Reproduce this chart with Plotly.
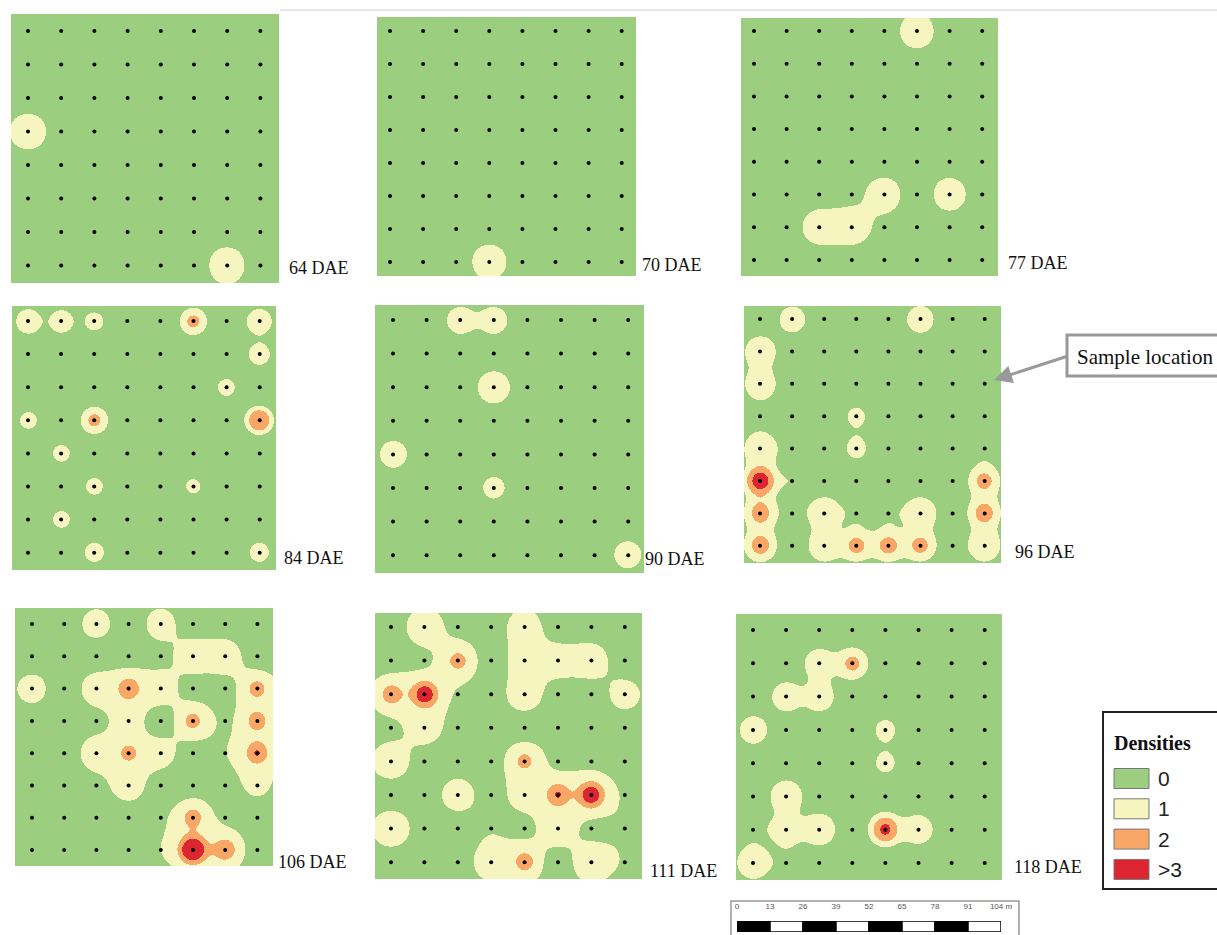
import numpy as np
import plotly.graph_objects as go

W, H = 1217, 935
COLORS = ["#9BCE7E", "#F6F5C0", "#F8A766", "#DD2531"]
DENSITY_LABELS = ["0", "1", "2", ">3"]
DAE_LABELS = ["64 DAE", "70 DAE", "77 DAE", "84 DAE", "90 DAE", "96 DAE", "106 DAE", "111 DAE", "118 DAE"]
SCALE_TICKS = [0, 13, 26, 39, 52, 65, 78, 91, 104]
SCALE_TEXT = ["0", "13", "26", "39", "52", "65", "78", "91", "104 m"]

d64 = [[0,0,0,0,0,0,0,0],
       [0,0,0,0,0,0,0,0],
       [0,0,0,0,0,0,0,0],
       [1.1,0,0,0,0,0,0,0],
       [0,0,0,0,0,0,0,0],
       [0,0,0,0,0,0,0,0],
       [0,0,0,0,0,0,0,0],
       [0,0,0,0,0,0,1.1,0]]
d70 = [[0,0,0,0,0,0,0,0],
       [0,0,0,0,0,0,0,0],
       [0,0,0,0,0,0,0,0],
       [0,0,0,0,0,0,0,0],
       [0,0,0,0,0,0,0,0],
       [0,0,0,0,0,0,0,0],
       [0,0,0,0,0,0,0,0],
       [0,0,0,1.05,0,0,0,0]]
d77 = [[0,0,0,0,0,1.05,0,0],
       [0,0,0,0,0,0,0,0],
       [0,0,0,0,0,0,0,0],
       [0,0,0,0,0,0,0,0],
       [0,0,0,0,0,0,0,0],
       [0,0,0,.2,1.05,0,1.0,0],
       [0,0,1.15,1.2,.2,0,0,0],
       [0,0,0,0,0,0,0,0]]
d84 = [[1.2,1.05,.8,0,0,1.8,0,1.25],
       [0,0,0,0,0,0,0,.95],
       [0,0,0,0,0,0,.75,0],
       [.75,0,1.8,0,0,0,.2,2.48],
       [0,.75,0,0,0,0,0,0],
       [0,0,.75,0,0,.67,0,0],
       [0,.75,0,0,0,0,0,0],
       [0,0,.85,0,0,0,0,.85]]
d90 = [[0,0,1.05,1.05,0,0,0,0],
       [0,0,0,0,0,0,0,0],
       [0,0,0,1.45,0,0,0,0],
       [0,0,0,0,0,0,0,0],
       [1.05,0,0,0,0,0,0,0],
       [0,0,0,.8,0,0,0,0],
       [0,0,0,0,0,0,0,0],
       [0,0,0,0,0,0,0,1.05]]
d96 = [[0,1.0,0,0,0,1.05,0,0],
       [1.35,0,0,0,0,0,0,0],
       [1.35,0,0,0,0,0,0,0],
       [.2,0,0,.68,0,0,0,0],
       [1.5,.2,0,.74,0,0,0,.42],
       [3.0,.48,0,0,0,0,0,2.0],
       [2.2,.3,1.45,.48,.48,1.45,.1,2.2],
       [2.2,0,1.5,2.0,2.1,2.0,.1,1.5]]
d106 = [[0,0,.85,0,.9,0,0,0],
        [0,0,0,0,.2,1.15,1.15,0],
        [.85,0,1.1,2.52,1.15,.1,.1,2.0],
        [0,0,.2,1.1,0,1.95,.35,2.15],
        [0,0,1.1,2.0,1.0,0,.45,2.55],
        [0,0,.2,1.05,0,0,.1,.8],
        [0,0,0,0,.3,2.1,.25,0],
        [0,0,0,0,.5,3.5,2.5,0]]
d111 = [[0,1.15,.15,0,1.1,0,0,0],
        [0,.3,2.0,0,1.15,1.1,1.1,0],
        [2.2,2.95,.35,0,1.15,0,0,.85],
        [.25,1.15,0,0,0,0,0,0],
        [1.15,0,0,0,1.9,.2,.15,0],
        [0,0,.95,.1,1.15,2.55,2.95,.35],
        [1.15,0,0,.4,.2,1.35,.22,.45],
        [0,0,0,1.2,2.1,0,1.35,.4]]
d118 = [[0,0,0,0,0,0,0,0],
        [0,0,1.25,1.9,0,0,0,0],
        [0,1.2,1.2,0,0,0,0,0],
        [1.1,0,0,0,.75,0,0,0],
        [0,0,0,0,.72,0,0,0],
        [0,1.45,0,0,0,0,0,0],
        [.45,1.45,1.45,0,2.67,1.2,0,0],
        [1.5,.45,0,0,0,0,0,0]]
PANELS = [d64, d70, d77, d84, d90, d96, d106, d111, d118]
KERNEL_WIDTH = [.45, .45, .45, .28, .33, .34, .45, .45, .33]

# panel placement in page pixels: image rectangle, first sample dot, dot spacing
RECTS = [(11,14,279,283,28,31,33.2,33.5), (377,17,636,276,390,31,33.1,33.0), (741,18,998,276,754,31,32.6,32.7),
         (12,306,276,570,28,321,33.1,33.1), (375,305,644,573,393,320,33.6,33.6), (744,306,1001,563,760,319,32.1,32.4),
         (15,608,273,866,32,624,32.2,32.3), (375,613,642,879,391,627,33.4,33.6), (736,614,1002,880,753,630,33.1,33.3)]
LABEL_POS = [(287,268), (640,265), (1006,263), (282,558), (643,559), (1013,552), (276,862), (648,871), (1012,867)]

fig = go.Figure()
gx, gy = np.meshgrid(np.arange(8.0), np.arange(8.0))
gx, gy = gx.ravel(), gy.ravel()

def layer_field(v, X, Y, s):
    K = np.exp(-((gx[:,None]-gx[None,:])**2 + (gy[:,None]-gy[None,:])**2) / (2*s**2))
    w = np.linalg.solve(K, v)
    out = np.zeros(X.shape)
    for wi, xi, yi in zip(w, gx, gy):
        out += wi*np.exp(-((X-xi)**2 + (Y-yi)**2) / (2*s**2))
    return out

def px(x): return x/W
def py(y): return 1 - y/H

shapes, annos = [], []
colorscale = [[0,COLORS[0]],[.25,COLORS[0]],[.25,COLORS[1]],[.5,COLORS[1]],[.5,COLORS[2]],[.75,COLORS[2]],[.75,COLORS[3]],[1,COLORS[3]]]

for i, (mat, r) in enumerate(zip(PANELS, RECTS)):
    x0, y0, x1, y1, dx0, dy0, sx, sy = r
    n = "" if i == 0 else str(i+1)
    xr = [(x0-dx0)/sx, (x1-dx0)/sx]
    yr = [(y1-dy0)/sy, (y0-dy0)/sy]
    xs = np.linspace(xr[0], xr[1], int(x1-x0))
    ys = np.linspace(yr[1], yr[0], int(y1-y0))
    X, Y = np.meshgrid(xs, ys)
    v = np.array(mat, float).ravel()
    s = KERNEL_WIDTH[i]
    l1 = np.interp(v, [0,1.5,2,3.5], [0,1.5,1.5,2.4])
    l2 = np.interp(v, [1,1.52,2.5,3.5], [0,.5,.85,1.8])
    l3 = np.interp(v, [2,2.5,3.5], [0,.5,.92])
    cls = ((layer_field(l1,X,Y,s) > .5).astype(np.int8)
           + (layer_field(l2,X,Y,.3) > .5).astype(np.int8)
           + (layer_field(l3,X,Y,.3) > .5).astype(np.int8))
    fig.add_trace(go.Heatmap(x=xs, y=ys, z=cls, zmin=0, zmax=3, colorscale=colorscale, showscale=False,
                             hoverinfo="skip", xaxis="x"+n, yaxis="y"+n))
    fig.add_trace(go.Scatter(x=gx, y=gy, mode="markers", marker=dict(size=4, color="black"),
                             hoverinfo="skip", showlegend=False, xaxis="x"+n, yaxis="y"+n))
    fig.layout["xaxis"+n] = dict(domain=[px(x0), px(x1)], range=xr, visible=False, anchor="y"+n)
    fig.layout["yaxis"+n] = dict(domain=[py(y1), py(y0)], range=yr, visible=False, anchor="x"+n)
    annos.append(dict(x=px(LABEL_POS[i][0]), y=py(LABEL_POS[i][1]), xref="paper", yref="paper", text=DAE_LABELS[i],
                      showarrow=False, xanchor="left", yanchor="middle",
                      font=dict(family="Liberation Serif", size=18, color="#111")))

# scale bar on its own axis
fig.add_trace(go.Bar(x=[13]*8, base=SCALE_TICKS[:-1], y=[0]*8, orientation="h", width=1,
                     marker=dict(color=["black","white"]*4, line=dict(color="black", width=1.5)),
                     hoverinfo="skip", showlegend=False, xaxis="x10", yaxis="y10"))
fig.layout["xaxis10"] = dict(domain=[px(737), px(1001)], range=[0,104], anchor="y10", side="top", tickmode="array",
                             tickvals=SCALE_TICKS, ticktext=SCALE_TEXT, ticks="", showgrid=False, zeroline=False,
                             showline=False, ticklabelstandoff=9, tickfont=dict(family="Liberation Sans", size=8, color="#555"))
fig.layout["yaxis10"] = dict(domain=[py(932), py(921)], range=[-.5,.5], visible=False, anchor="x10")

def rect(x0,y0,x1,y1,fill="rgba(0,0,0,0)",line="#000",lw=1, layer="above"):
    return dict(type="rect", xref="paper", yref="paper", x0=px(x0), x1=px(x1), y0=py(y1), y1=py(y0),
                fillcolor=fill, line=dict(color=line, width=lw), layer=layer)

shapes.append(dict(type="line", xref="paper", yref="paper", x0=px(280), x1=1, y0=py(10), y1=py(10), line=dict(color="#cfcfcf", width=1)))
shapes.append(rect(731,901,1019,945,line="#999",lw=1.5,layer="below"))
# legend
shapes.append(rect(1103,712,1225,889,fill="white",line="#222",lw=2))
annos.append(dict(x=px(1112), y=py(743), xref="paper", yref="paper", text="<b>Densities</b>", showarrow=False, xanchor="left",
                  yanchor="middle", font=dict(family="Liberation Serif", size=20, color="#111")))
for i, (c, t) in enumerate(zip(COLORS, DENSITY_LABELS)):
    yc = 778.5 + i*30.3
    shapes.append(rect(1114,yc-10,1149,yc+10,fill=c,line="#777",lw=1))
    annos.append(dict(x=px(1156), y=py(yc), xref="paper", yref="paper", text=t, showarrow=False, xanchor="left", yanchor="middle",
                      font=dict(family="Liberation Sans", size=21, color="#222")))
# callout
shapes.append(rect(1067,335,1225,376,fill="white",line="#999",lw=3))
annos.append(dict(x=px(1075), y=py(357), xref="paper", yref="paper", text="Sample location", showarrow=False, xanchor="left",
                  yanchor="middle", font=dict(family="Liberation Serif", size=21, color="#111")))
annos.append(dict(x=px(994), y=py(380), xref="paper", yref="paper", text="", showarrow=True, axref="pixel", ayref="pixel",
                  ax=74, ay=-24, arrowcolor="#999", arrowwidth=3, arrowhead=2, arrowsize=1.2))

fig.update_layout(width=W, height=H, margin=dict(l=0,r=0,t=0,b=0,autoexpand=False), paper_bgcolor="white", plot_bgcolor="white",
                  shapes=shapes, annotations=annos, showlegend=False)
fig.write_html("out.html", config=dict(displayModeBar=False), post_script="document.body.style.margin='0';document.body.style.overflow='hidden';")
